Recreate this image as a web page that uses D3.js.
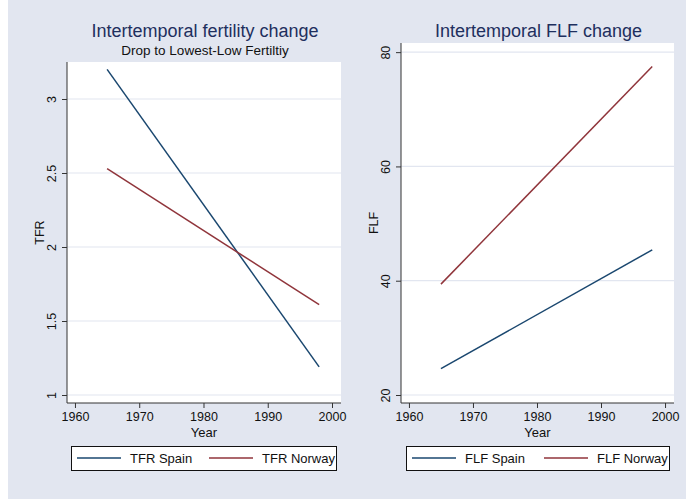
<!DOCTYPE html>
<html lang="en">
<head>
	<meta charset="utf-8">
	<title>Intertemporal change</title>
	<script src="https://cdnjs.cloudflare.com/ajax/libs/d3/7.8.5/d3.min.js"></script>
	<style>
	body { margin: 0; background: #fff; }
	svg { display: block; font-family: "Liberation Sans", Arial, sans-serif; }
	</style>
</head>
<body>
<svg id="chart" width="686" height="501"></svg>
<script>
// data
var years = [1965, 1998];
var tfrSpain = [3.2, 1.19];
var tfrNorway = [2.53, 1.61];
var flfSpain = [24.6, 45.4];
var flfNorway = [39.4, 77.5];
var xTicks = [1960, 1970, 1980, 1990, 2000];
var tfrTicks = [1, 1.5, 2, 2.5, 3];
var flfTicks = [20, 40, 60, 80];

var navy = '#1a476f', maroon = '#90353b';
var svg = d3.select('#chart');

svg.append('rect').attr('x', 8).attr('y', 0).attr('width', 678).attr('height', 499).attr('fill', '#e2e6f0');

var panels = [
	{ left: 67, right: 341, top: 62, bottom: 403, ydom: [0.946, 3.25], yticks: tfrTicks,
	  ylab: 'TFR', title: 'Intertemporal fertility change', sub: 'Drop to Lowest-Low Fertiltiy',
	  series: [{ v: tfrSpain, c: navy, name: 'TFR Spain' }, { v: tfrNorway, c: maroon, name: 'TFR Norway' }],
	  leg: [71, 336] },
	{ left: 401, right: 674, top: 43, bottom: 403, ydom: [18.6, 81.6], yticks: flfTicks,
	  ylab: 'FLF', title: 'Intertemporal FLF change', sub: null,
	  series: [{ v: flfSpain, c: navy, name: 'FLF Spain' }, { v: flfNorway, c: maroon, name: 'FLF Norway' }],
	  leg: [406, 669] }
];

panels.forEach(function (p) {
	var x = d3.scaleLinear().domain([1958.76, 2001.4]).range([p.left, p.right]);
	var y = d3.scaleLinear().domain(p.ydom).range([p.bottom, p.top]);

	svg.append('rect').attr('x', p.left).attr('y', p.top)
		.attr('width', p.right - p.left).attr('height', p.bottom - p.top).attr('fill', '#fff');

	// grid
	svg.append('g').selectAll('line').data(p.yticks).join('line')
		.attr('x1', p.left).attr('x2', p.right)
		.attr('y1', function (d) { return y(d); }).attr('y2', function (d) { return y(d); })
		.attr('stroke', '#e2e6f0').attr('stroke-width', 1.2);

	// axes
	var ya = svg.append('g').attr('transform', 'translate(' + p.left + ',0)')
		.call(d3.axisLeft(y).tickValues(p.yticks).tickSize(5).tickPadding(4).tickFormat(d3.format('')));
	ya.select('.domain').attr('d', 'M0,' + p.top + 'V' + p.bottom).attr('stroke', '#333');
	ya.selectAll('.tick line').attr('stroke', '#333');
	ya.selectAll('.tick text').attr('transform', 'rotate(-90)').attr('x', 0).attr('y', -15)
		.attr('dy', '0.32em').attr('text-anchor', 'middle')
		.style('font-size', '12.5px').style('font-family', '"Liberation Sans", Arial, sans-serif').attr('fill', '#111');

	var xa = svg.append('g').attr('transform', 'translate(0,' + p.bottom + ')')
		.call(d3.axisBottom(x).tickValues(xTicks).tickSize(5).tickPadding(4).tickFormat(d3.format('d')));
	xa.select('.domain').attr('d', 'M' + p.left + ',0H' + p.right).attr('stroke', '#333');
	xa.selectAll('.tick line').attr('stroke', '#333');
	xa.selectAll('.tick text').style('font-size', '12.5px')
		.style('font-family', '"Liberation Sans", Arial, sans-serif').attr('fill', '#111');

	// labels
	var cx = (p.left + p.right) / 2, cy = (p.top + p.bottom) / 2;
	svg.append('text').attr('x', cx).attr('y', 437).attr('text-anchor', 'middle')
		.attr('font-size', 13).attr('fill', '#111').text('Year');
	svg.append('text').attr('transform', 'translate(' + (p.left - 23) + ',' + cy + ') rotate(-90)')
		.attr('text-anchor', 'middle').attr('font-size', 12.5).attr('fill', '#111').text(p.ylab);

	svg.append('text').attr('x', cx + 1).attr('y', 37).attr('text-anchor', 'middle')
		.attr('font-size', 18).attr('fill', '#1e2f5e').text(p.title);
	if (p.sub) {
		svg.append('text').attr('x', cx + 1).attr('y', 55).attr('text-anchor', 'middle')
			.attr('font-size', 13.5).attr('fill', '#111').text(p.sub);
	}

	// lines
	var line = d3.line().x(function (d, i) { return x(years[i]); }).y(function (d) { return y(d); });
	p.series.forEach(function (s) {
		svg.append('path').attr('d', line(s.v)).attr('fill', 'none')
			.attr('stroke', s.c).attr('stroke-width', 1.5);
	});

	// legend
	var lx = p.leg[0], lw = p.leg[1] - p.leg[0];
	svg.append('rect').attr('x', lx + 0.5).attr('y', 446.5).attr('width', lw).attr('height', 24)
		.attr('fill', '#fff').attr('stroke', '#111').attr('stroke-width', 1);
	p.series.forEach(function (s, i) {
		var ox = lx + 6 + i * 132;
		svg.append('line').attr('x1', ox).attr('x2', ox + 44).attr('y1', 458).attr('y2', 458)
			.attr('stroke', s.c).attr('stroke-width', 1.5);
		svg.append('text').attr('x', ox + 53).attr('y', 463).attr('font-size', 13)
			.attr('fill', '#111').text(s.name);
	});
});
</script>
</body>
</html>
